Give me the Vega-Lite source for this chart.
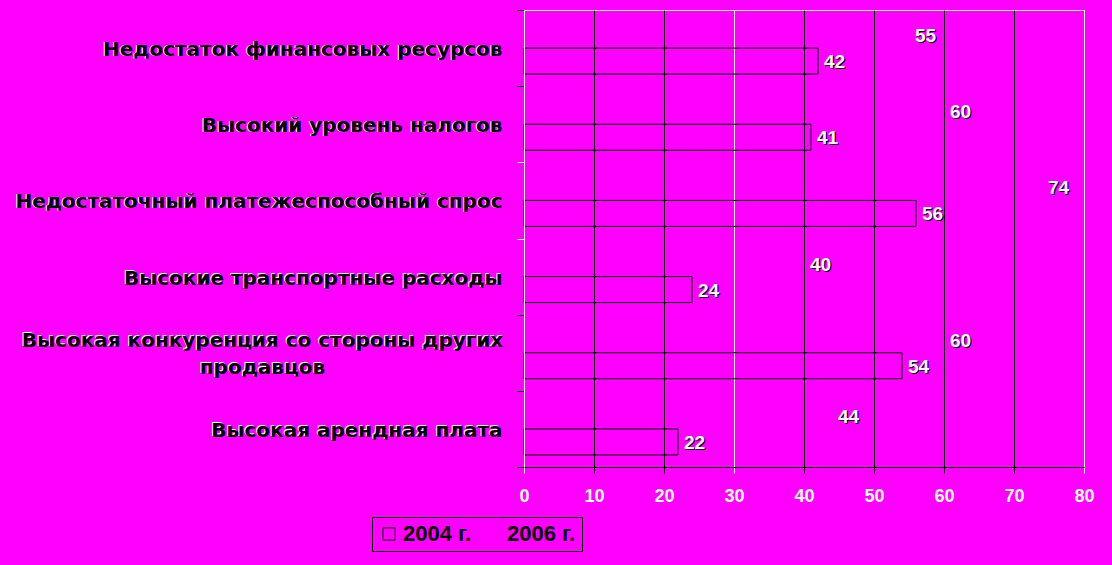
{
  "$schema": "https://vega.github.io/schema/vega-lite/v6.json",
  "autosize": "none",
  "width": 560,
  "height": 457,
  "padding": {"left": 524, "top": 10, "right": 28, "bottom": 98},
  "background": "#FF00FF",
  "config": {
    "view": {"stroke": "white", "strokeWidth": 1},
    "font": "Liberation Sans"
  },
  "data": {
    "values": [
      {"cat": "Недостаток финансовых ресурсов", "year": "2004 г.", "v": 42},
      {"cat": "Недостаток финансовых ресурсов", "year": "2006 г.", "v": 55},
      {"cat": "Высокий уровень налогов", "year": "2004 г.", "v": 41},
      {"cat": "Высокий уровень налогов", "year": "2006 г.", "v": 60},
      {"cat": "Недостаточный платежеспособный спрос", "year": "2004 г.", "v": 56},
      {"cat": "Недостаточный платежеспособный спрос", "year": "2006 г.", "v": 74},
      {"cat": "Высокие транспортные расходы", "year": "2004 г.", "v": 24},
      {"cat": "Высокие транспортные расходы", "year": "2006 г.", "v": 40},
      {"cat": "Высокая конкуренция со стороны других продавцов", "year": "2004 г.", "v": 54},
      {"cat": "Высокая конкуренция со стороны других продавцов", "year": "2006 г.", "v": 60},
      {"cat": "Высокая арендная плата", "year": "2004 г.", "v": 22},
      {"cat": "Высокая арендная плата", "year": "2006 г.", "v": 44}
    ]
  },
  "encoding": {
    "y": {
      "field": "cat", "type": "nominal", "sort": null, "title": null,
      "scale": {"paddingInner": 0, "paddingOuter": 0}
    },
    "x": {
      "field": "v", "type": "quantitative", "title": null,
      "scale": {"domain": [0, 80], "nice": false, "round": true},
      "axis": {
        "values": [0, 10, 20, 30, 40, 50, 60, 70, 80],
        "grid": true,
        "gridColor": {"condition": {"test": "datum.value === 0 || datum.value === 30 || datum.value === 80", "value": "white"}, "value": "black"},
        "gridOpacity": 1,
        "gridWidth": 1,
        "tickColor": {"condition": {"test": "datum.value === 0 || datum.value === 30 || datum.value === 80", "value": "white"}, "value": "black"},
        "tickSize": 6,
        "domainColor": "black",
        "labelColor": "white",
        "labelFont": "Liberation Sans",
        "labelFontWeight": "bold",
        "labelFontSize": 18,
        "labelPadding": 14,
        "labelFlush": false
      }
    },
    "yOffset": {"field": "year", "type": "nominal", "sort": ["2006 г.", "2004 г."], "scale": {"paddingInner": 0, "paddingOuter": 0.465}}
  },
  "layer": [
    {
      "mark": {"type": "bar", "fillOpacity": 0, "strokeWidth": 1},
      "encoding": {
        "y": {
          "field": "cat", "type": "nominal", "sort": null, "title": null,
          "axis": {
            "orient": "left",
            "zindex": 1,
            "domain": true,
            "domainColor": "white",
            "ticks": true,
            "tickBand": "extent",
            "tickColor": {"condition": {"test": "datum.value == 'Высокий уровень налогов' || datum.value == 'Недостаточный платежеспособный спрос'", "value": "white"}, "value": "black"},
            "tickSize": 7,
            "labelColor": "white",
            "labelFont": "DejaVu Sans",
            "labelFontWeight": "bold",
            "labelFontSize": 20,
            "labelLimit": 520,
            "labelExpr": "datum.label == 'Высокая конкуренция со стороны других продавцов' ? ['Высокая конкуренция со стороны других', 'продавцов'] : datum.label",
            "labelAlign": {"condition": {"test": "datum.label == 'Высокая конкуренция со стороны других продавцов'", "value": "center"}, "value": "right"},
            "labelPadding": {"condition": {"test": "datum.label == 'Высокая конкуренция со стороны других продавцов'", "value": 256}, "value": 16},
            "labelOffset": {"condition": {"test": "datum.label == 'Высокая конкуренция со стороны других продавцов'", "value": -13}, "value": 1},
            "labelLineHeight": 27
          }
        },
        "fill": {
          "field": "year", "type": "nominal",
          "scale": {"domain": ["2004 г.", "2006 г."], "range": ["#FF00FF", "#FF00FF"]},
          "legend": {
            "orient": "none", "legendX": -152, "legendY": 507,
            "direction": "horizontal", "title": null,
            "fillColor": "#FF00FF", "strokeColor": "black",
            "padding": 6,
            "symbolType": "square", "symbolSize": 150, "symbolStrokeWidth": 1,
            "labelFont": "Liberation Sans", "labelFontWeight": "bold", "labelFontSize": 22, "labelColor": "black",
            "labelOffset": 3,
            "columnPadding": 10
          }
        },
        "stroke": {
          "field": "year", "type": "nominal",
          "scale": {"domain": ["2004 г.", "2006 г."], "range": ["black", "rgba(0,0,0,0)"]},
          "legend": null
        }
      }
    },
    {
      "mark": {"type": "text", "align": "left", "baseline": "middle", "dx": 7, "dy": 2, "font": "Liberation Sans", "fontWeight": "bold", "fontSize": 19, "color": "black"},
      "encoding": {
        "text": {"field": "v", "type": "quantitative"},
        "y": {
          "field": "cat", "type": "nominal", "sort": null, "title": null,
          "axis": {
            "orient": "left",
            "zindex": 1,
            "domain": false,
            "ticks": false,
            "labelColor": "black",
            "labelFont": "DejaVu Sans",
            "labelFontWeight": "bold",
            "labelFontSize": 20,
            "labelLimit": 520,
            "labelExpr": "datum.label == 'Высокая конкуренция со стороны других продавцов' ? ['Высокая конкуренция со стороны других', 'продавцов'] : datum.label",
            "labelAlign": {"condition": {"test": "datum.label == 'Высокая конкуренция со стороны других продавцов'", "value": "center"}, "value": "right"},
            "labelPadding": {"condition": {"test": "datum.label == 'Высокая конкуренция со стороны других продавцов'", "value": 262}, "value": 22},
            "labelOffset": {"condition": {"test": "datum.label == 'Высокая конкуренция со стороны других продавцов'", "value": -12}, "value": 2},
            "labelLineHeight": 27
          }
        }
      }
    },
    {
      "mark": {"type": "text", "align": "left", "baseline": "middle", "dx": 6, "dy": 1, "font": "Liberation Sans", "fontWeight": "bold", "fontSize": 19, "color": "white"},
      "encoding": {
        "text": {"field": "v", "type": "quantitative"},
        "y": {"field": "cat", "type": "nominal", "sort": null, "axis": null}
      }
    }
  ],
  "resolve": {"axis": {"y": "independent"}}
}
